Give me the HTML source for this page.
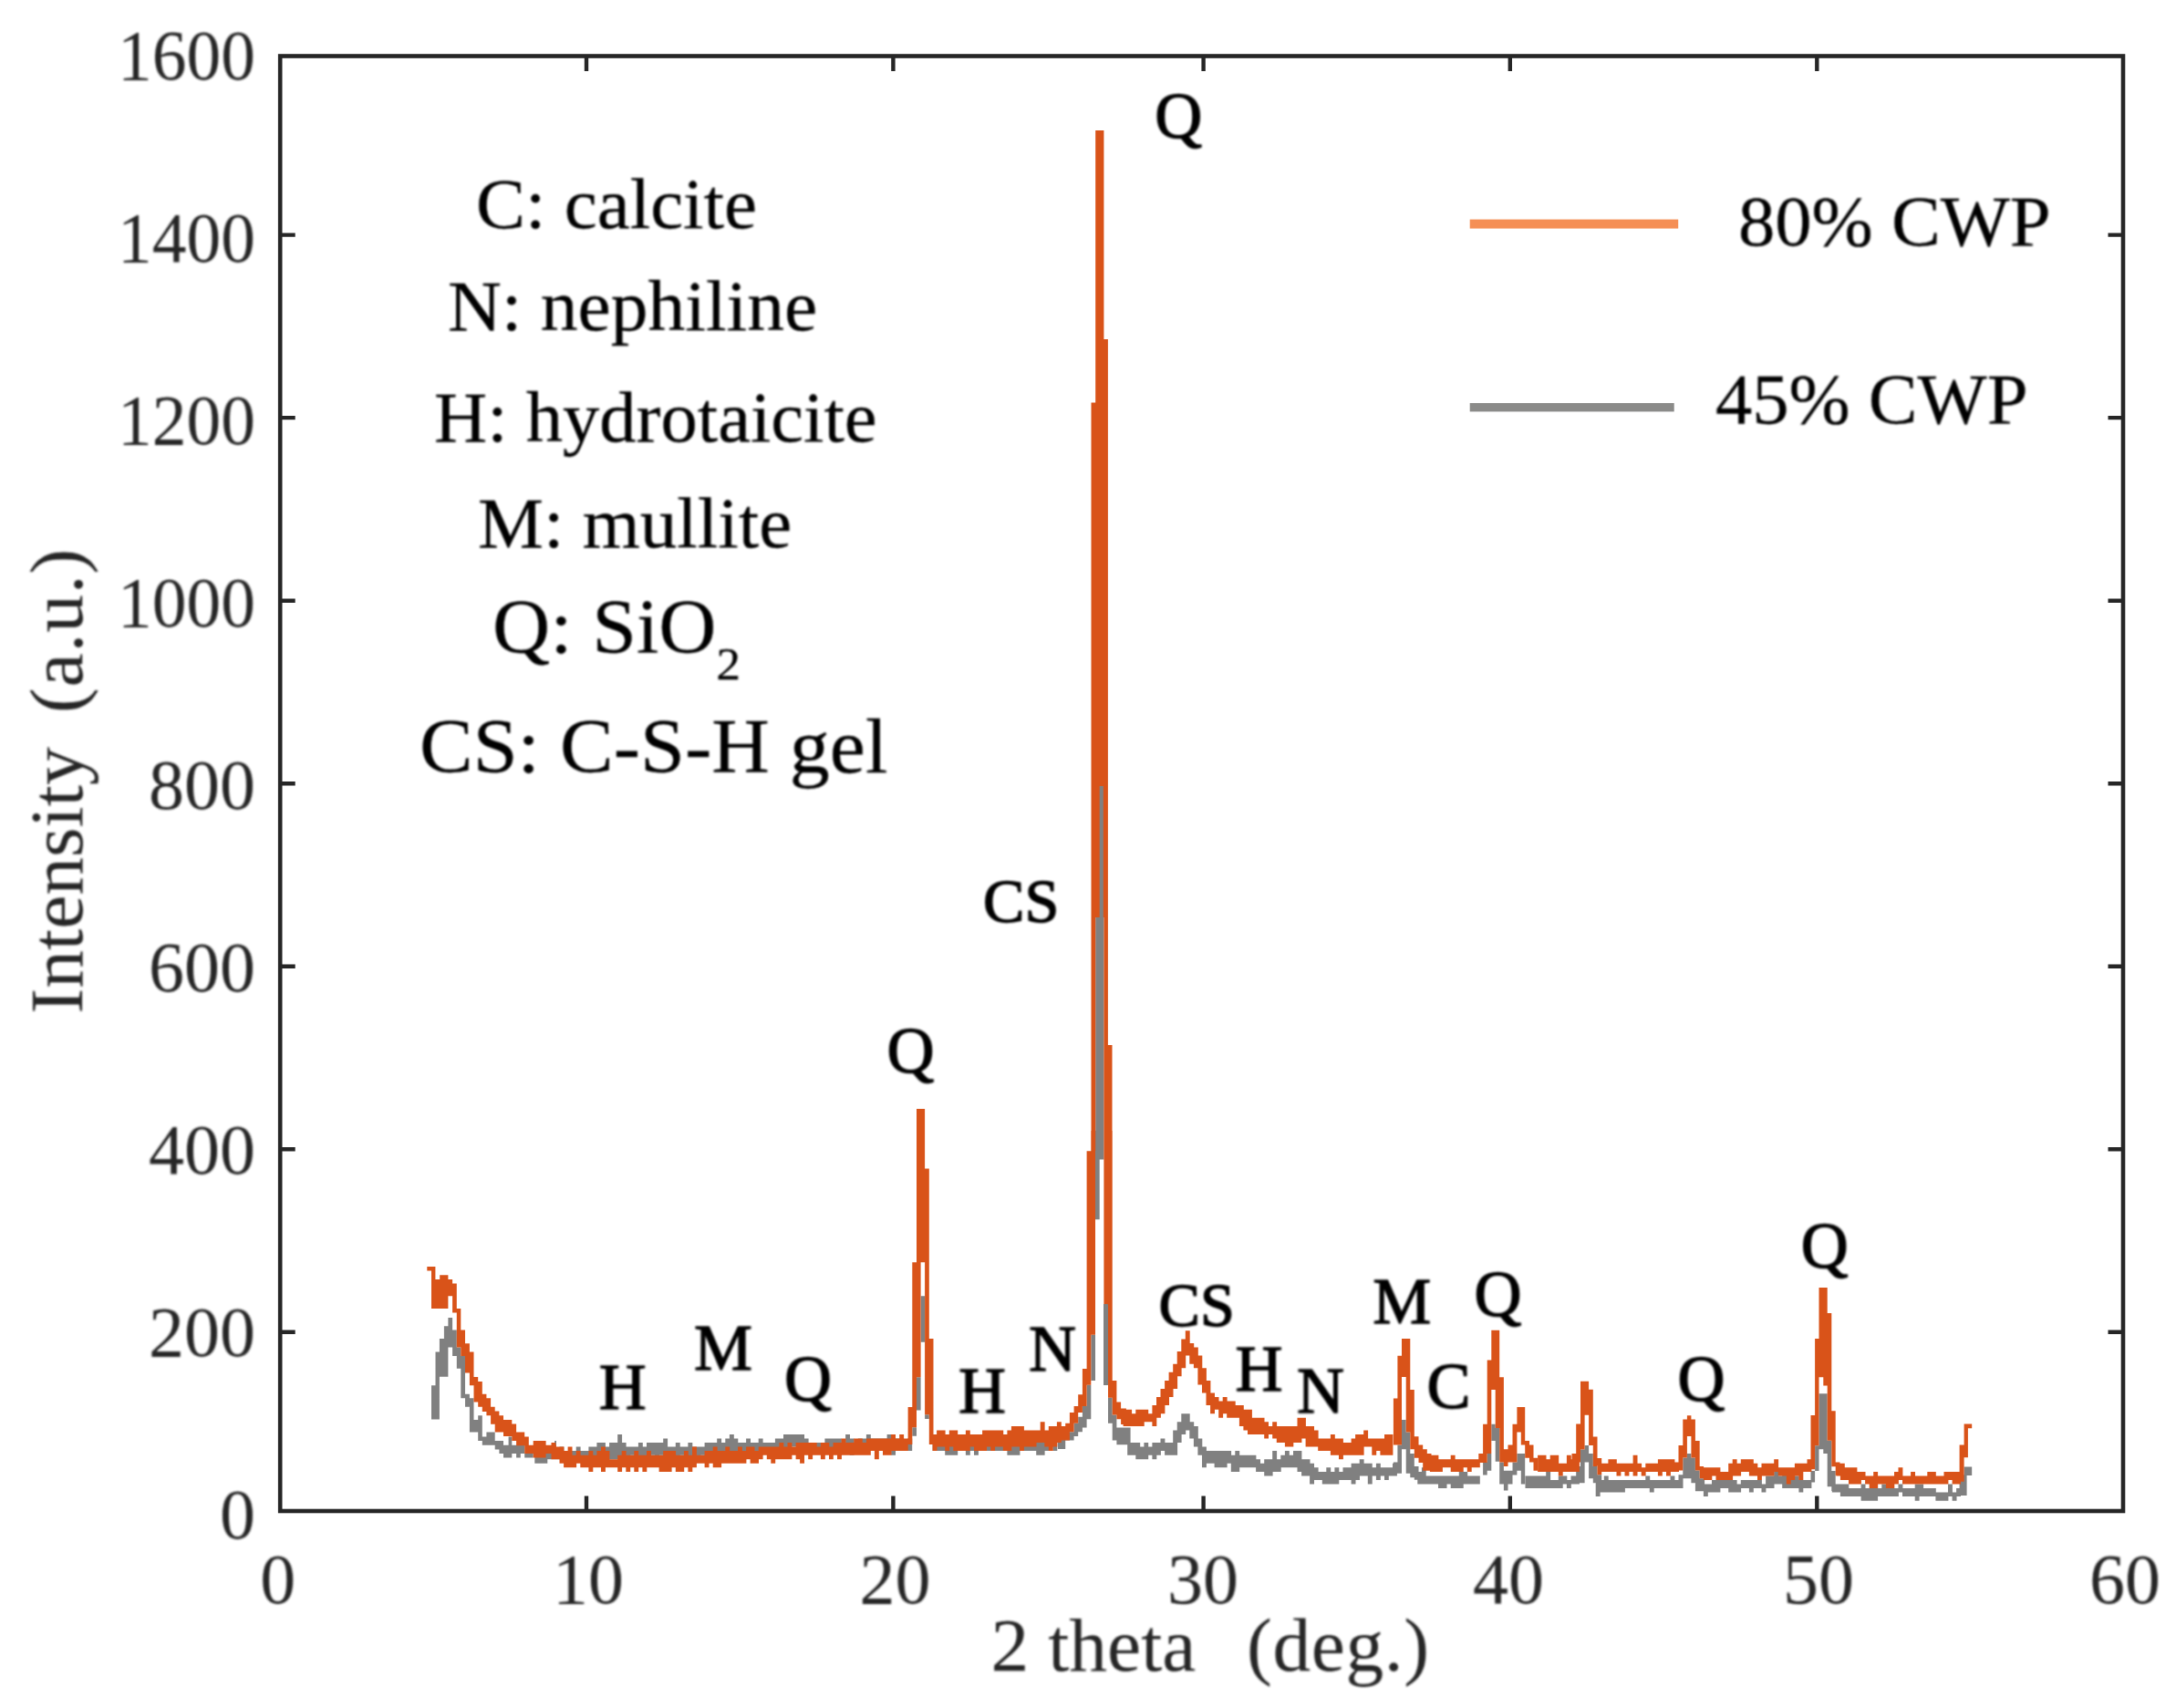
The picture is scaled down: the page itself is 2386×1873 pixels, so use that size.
<!DOCTYPE html>
<html lang="en">
<head>
<meta charset="utf-8">
<title>XRD patterns: 80% CWP vs 45% CWP</title>
<style>
html,body{margin:0;padding:0;background:#ffffff;}
body{width:2386px;height:1873px;overflow:hidden;font-family:"Liberation Serif",serif;}
svg{display:block;}
</style>
</head>
<body>
<svg width="2386" height="1873" viewBox="0 0 2386 1873">
<defs><filter id="soft" x="-5%" y="-5%" width="110%" height="110%"><feGaussianBlur stdDeviation="0.9"/></filter></defs>
<rect x="0" y="0" width="2386" height="1873" fill="#ffffff"/>
<path d="M586.3,1591.1H591.2V1604.8H586.3ZM590.8,1582.0H595.7V1604.8H590.8ZM595.4,1586.6H600.3V1604.8H595.4ZM599.9,1591.1H604.8V1600.2H599.9ZM604.5,1591.1H609.3V1600.2H604.5ZM609.0,1591.1H613.9V1600.2H609.0ZM613.5,1586.6H618.4V1600.2H613.5ZM618.1,1591.1H623.0V1600.2H618.1ZM622.6,1591.1H627.5V1604.8H622.6ZM627.2,1591.1H632.1V1604.8H627.2ZM631.7,1586.6H636.6V1600.2H631.7ZM636.3,1591.1H641.2V1600.2H636.3ZM640.8,1591.1H645.7V1604.8H640.8ZM645.4,1586.6H650.3V1600.2H645.4ZM649.9,1586.6H654.8V1604.8H649.9ZM654.4,1582.0H659.3V1604.8H654.4ZM659.0,1582.0H663.9V1604.8H659.0ZM663.5,1586.6H668.4V1600.2H663.5ZM668.1,1582.0H673.0V1600.2H668.1ZM672.6,1582.0H677.5V1600.2H672.6ZM677.2,1573.0H682.1V1600.2H677.2ZM681.7,1582.0H686.6V1595.7H681.7ZM686.3,1586.6H691.2V1600.2H686.3ZM690.8,1586.6H695.7V1595.7H690.8ZM695.3,1586.6H700.2V1604.8H695.3ZM699.9,1582.0H704.8V1600.2H699.9ZM704.4,1586.6H709.3V1600.2H704.4ZM709.0,1582.0H713.9V1600.2H709.0ZM713.5,1582.0H718.4V1595.7H713.5ZM718.1,1582.0H723.0V1600.2H718.1ZM722.6,1582.0H727.5V1595.7H722.6ZM727.2,1577.5H732.1V1600.2H727.2ZM731.7,1586.6H736.6V1600.2H731.7ZM736.3,1586.6H741.1V1595.7H736.3ZM740.8,1582.0H745.7V1600.2H740.8ZM745.3,1586.6H750.2V1595.7H745.3ZM749.9,1586.6H754.8V1600.2H749.9ZM754.4,1582.0H759.3V1600.2H754.4ZM759.0,1586.6H763.9V1595.7H759.0ZM763.5,1586.6H768.4V1600.2H763.5ZM768.1,1586.6H773.0V1595.7H768.1ZM772.6,1582.0H777.5V1600.2H772.6ZM777.2,1582.0H782.0V1595.7H777.2ZM781.7,1582.0H786.6V1595.7H781.7ZM786.2,1577.5H791.1V1595.7H786.2ZM790.8,1582.0H795.7V1595.7H790.8ZM795.3,1577.5H800.2V1591.1H795.3ZM799.9,1573.0H804.8V1591.1H799.9ZM804.4,1577.5H809.3V1591.1H804.4ZM809.0,1582.0H813.9V1591.1H809.0ZM813.5,1582.0H818.4V1600.2H813.5ZM818.1,1577.5H823.0V1591.1H818.1ZM822.6,1582.0H827.5V1595.7H822.6ZM827.1,1582.0H832.0V1591.1H827.1ZM831.7,1577.5H836.6V1595.7H831.7ZM836.2,1582.0H841.1V1591.1H836.2ZM840.8,1582.0H845.7V1591.1H840.8ZM845.3,1582.0H850.2V1591.1H845.3ZM849.9,1577.5H854.8V1591.1H849.9ZM854.4,1577.5H859.3V1591.1H854.4ZM859.0,1573.0H863.9V1595.7H859.0ZM863.5,1573.0H868.4V1586.6H863.5ZM868.0,1573.0H872.9V1586.6H868.0ZM872.6,1573.0H877.5V1586.6H872.6ZM877.1,1573.0H882.0V1591.1H877.1ZM881.7,1577.5H886.6V1591.1H881.7ZM886.2,1582.0H891.1V1591.1H886.2ZM890.8,1582.0H895.7V1591.1H890.8ZM895.3,1582.0H900.2V1591.1H895.3ZM899.9,1582.0H904.8V1591.1H899.9ZM904.4,1577.5H909.3V1591.1H904.4ZM909.0,1577.5H913.8V1591.1H909.0ZM913.5,1577.5H918.4V1591.1H913.5ZM918.0,1577.5H922.9V1591.1H918.0ZM922.6,1582.0H927.5V1591.1H922.6ZM927.1,1573.0H932.0V1591.1H927.1ZM931.7,1577.5H936.6V1595.7H931.7ZM936.2,1582.0H941.1V1591.1H936.2ZM940.8,1577.5H945.7V1591.1H940.8ZM945.3,1577.5H950.2V1591.1H945.3ZM949.9,1573.0H954.8V1591.1H949.9ZM954.4,1577.5H959.3V1591.1H954.4ZM958.9,1577.5H963.8V1586.6H958.9ZM963.5,1577.5H968.4V1591.1H963.5ZM968.0,1577.5H972.9V1586.6H968.0ZM972.6,1573.0H977.5V1591.1H972.6ZM977.1,1573.0H982.0V1595.7H977.1ZM981.7,1577.5H986.6V1591.1H981.7ZM986.2,1577.5H991.1V1586.6H986.2ZM990.8,1582.0H995.7V1591.1H990.8ZM995.3,1577.5H1000.2V1591.1H995.3ZM1022.6,1582.0H1027.5V1591.1H1022.6ZM1027.1,1577.5H1032.0V1591.1H1027.1ZM1031.7,1577.5H1036.6V1591.1H1031.7ZM1036.2,1582.0H1041.1V1595.7H1036.2ZM1040.8,1577.5H1045.6V1595.7H1040.8ZM1045.3,1582.0H1050.2V1595.7H1045.3ZM1049.8,1577.5H1054.7V1591.1H1049.8ZM1054.4,1577.5H1059.3V1591.1H1054.4ZM1058.9,1582.0H1063.8V1595.7H1058.9ZM1063.5,1577.5H1068.4V1591.1H1063.5ZM1068.0,1573.0H1072.9V1595.7H1068.0ZM1072.6,1582.0H1077.5V1591.1H1072.6ZM1077.1,1582.0H1082.0V1591.1H1077.1ZM1081.7,1577.5H1086.5V1591.1H1081.7ZM1086.2,1582.0H1091.1V1591.1H1086.2ZM1090.7,1577.5H1095.6V1591.1H1090.7ZM1095.3,1577.5H1100.2V1591.1H1095.3ZM1099.8,1577.5H1104.7V1591.1H1099.8ZM1104.4,1582.0H1109.3V1595.7H1104.4ZM1108.9,1577.5H1113.8V1595.7H1108.9ZM1113.5,1577.5H1118.4V1595.7H1113.5ZM1118.0,1577.5H1122.9V1591.1H1118.0ZM1122.6,1577.5H1127.5V1591.1H1122.6ZM1127.1,1577.5H1132.0V1591.1H1127.1ZM1131.6,1573.0H1136.5V1591.1H1131.6ZM1136.2,1577.5H1141.1V1595.7H1136.2ZM1140.7,1577.5H1145.6V1595.7H1140.7ZM1145.3,1577.5H1150.2V1591.1H1145.3ZM1149.8,1577.5H1154.7V1586.6H1149.8ZM1154.4,1577.5H1159.3V1591.1H1154.4ZM1236.2,1582.0H1241.1V1595.7H1236.2ZM1240.7,1582.0H1245.6V1595.7H1240.7ZM1245.3,1582.0H1250.2V1600.2H1245.3ZM1249.8,1586.6H1254.7V1600.2H1249.8ZM1254.4,1582.0H1259.2V1600.2H1254.4ZM1258.9,1586.6H1263.8V1595.7H1258.9ZM1263.4,1582.0H1268.3V1600.2H1263.4ZM1268.0,1582.0H1272.9V1595.7H1268.0ZM1272.5,1577.5H1277.4V1591.1H1272.5ZM1277.1,1582.0H1282.0V1595.7H1277.1ZM1281.6,1582.0H1286.5V1595.7H1281.6ZM1286.2,1568.4H1291.1V1595.7H1286.2ZM1290.7,1559.3H1295.6V1582.0H1290.7ZM1295.3,1550.2H1300.2V1573.0H1295.3ZM1299.8,1550.2H1304.7V1568.4H1299.8ZM1304.3,1559.3H1309.2V1577.5H1304.3ZM1308.9,1563.9H1313.8V1586.6H1308.9ZM1313.4,1577.5H1318.3V1595.7H1313.4ZM1318.0,1586.6H1322.9V1609.3H1318.0ZM1322.5,1591.1H1327.4V1604.8H1322.5ZM1327.1,1591.1H1332.0V1604.8H1327.1ZM1331.6,1591.1H1336.5V1609.3H1331.6ZM1336.2,1591.1H1341.1V1609.3H1336.2ZM1340.7,1591.1H1345.6V1609.3H1340.7ZM1345.2,1591.1H1350.1V1604.8H1345.2ZM1349.8,1595.7H1354.7V1613.9H1349.8ZM1354.3,1591.1H1359.2V1613.9H1354.3ZM1358.9,1595.7H1363.8V1609.3H1358.9ZM1363.4,1595.7H1368.3V1609.3H1363.4ZM1368.0,1595.7H1372.9V1609.3H1368.0ZM1372.5,1595.7H1377.4V1609.3H1372.5ZM1377.1,1600.2H1382.0V1613.9H1377.1ZM1381.6,1604.8H1386.5V1613.9H1381.6ZM1386.2,1600.2H1391.0V1618.4H1386.2ZM1390.7,1600.2H1395.6V1618.4H1390.7ZM1395.2,1591.1H1400.1V1613.9H1395.2ZM1399.8,1600.2H1404.7V1613.9H1399.8ZM1404.3,1595.7H1409.2V1609.3H1404.3ZM1408.9,1591.1H1413.8V1609.3H1408.9ZM1413.4,1595.7H1418.3V1609.3H1413.4ZM1418.0,1591.1H1422.9V1609.3H1418.0ZM1422.5,1591.1H1427.4V1613.9H1422.5ZM1427.1,1600.2H1431.9V1618.4H1427.1ZM1431.6,1600.2H1436.5V1618.4H1431.6ZM1436.1,1604.8H1441.0V1627.5H1436.1ZM1440.7,1609.3H1445.6V1623.0H1440.7ZM1445.2,1613.9H1450.1V1623.0H1445.2ZM1449.8,1613.9H1454.7V1627.5H1449.8ZM1454.3,1609.3H1459.2V1627.5H1454.3ZM1458.9,1613.9H1463.8V1627.5H1458.9ZM1463.4,1609.3H1468.3V1627.5H1463.4ZM1468.0,1613.9H1472.9V1623.0H1468.0ZM1472.5,1609.3H1477.4V1623.0H1472.5ZM1477.0,1609.3H1481.9V1623.0H1477.0ZM1481.6,1604.8H1486.5V1627.5H1481.6ZM1486.1,1604.8H1491.0V1623.0H1486.1ZM1490.7,1600.2H1495.6V1618.4H1490.7ZM1495.2,1604.8H1500.1V1618.4H1495.2ZM1499.8,1604.8H1504.7V1627.5H1499.8ZM1504.3,1609.3H1509.2V1618.4H1504.3ZM1508.9,1604.8H1513.8V1623.0H1508.9ZM1513.4,1609.3H1518.3V1618.4H1513.4ZM1518.0,1609.3H1522.8V1623.0H1518.0ZM1522.5,1609.3H1527.4V1618.4H1522.5ZM1527.0,1604.8H1531.9V1618.4H1527.0ZM1554.3,1613.9H1559.2V1627.5H1554.3ZM1558.9,1609.3H1563.7V1627.5H1558.9ZM1563.4,1618.4H1568.3V1627.5H1563.4ZM1567.9,1618.4H1572.8V1627.5H1567.9ZM1572.5,1618.4H1577.4V1627.5H1572.5ZM1577.0,1618.4H1581.9V1632.1H1577.0ZM1581.6,1618.4H1586.5V1632.1H1581.6ZM1586.1,1618.4H1591.0V1627.5H1586.1ZM1590.7,1618.4H1595.6V1632.1H1590.7ZM1595.2,1618.4H1600.1V1632.1H1595.2ZM1599.8,1613.9H1604.7V1632.1H1599.8ZM1604.3,1613.9H1609.2V1627.5H1604.3ZM1608.8,1618.4H1613.7V1627.5H1608.8ZM1613.4,1618.4H1618.3V1627.5H1613.4ZM1617.9,1618.4H1622.8V1627.5H1617.9ZM1672.5,1618.4H1677.4V1632.1H1672.5ZM1677.0,1618.4H1681.9V1632.1H1677.0ZM1681.6,1618.4H1686.5V1632.1H1681.6ZM1686.1,1618.4H1691.0V1632.1H1686.1ZM1690.7,1618.4H1695.5V1632.1H1690.7ZM1695.2,1613.9H1700.1V1632.1H1695.2ZM1699.7,1623.0H1704.6V1632.1H1699.7ZM1704.3,1623.0H1709.2V1632.1H1704.3ZM1708.8,1618.4H1713.7V1632.1H1708.8ZM1713.4,1618.4H1718.3V1627.5H1713.4ZM1717.9,1623.0H1722.8V1632.1H1717.9ZM1722.5,1618.4H1727.4V1627.5H1722.5ZM1727.0,1618.4H1731.9V1627.5H1727.0ZM1749.7,1618.4H1754.6V1641.1H1749.7ZM1754.3,1623.0H1759.2V1636.6H1754.3ZM1758.8,1618.4H1763.7V1636.6H1758.8ZM1763.4,1623.0H1768.3V1636.6H1763.4ZM1767.9,1623.0H1772.8V1636.6H1767.9ZM1772.5,1623.0H1777.4V1636.6H1772.5ZM1777.0,1623.0H1781.9V1636.6H1777.0ZM1781.5,1623.0H1786.4V1632.1H1781.5ZM1786.1,1623.0H1791.0V1632.1H1786.1ZM1790.6,1623.0H1795.5V1632.1H1790.6ZM1795.2,1623.0H1800.1V1632.1H1795.2ZM1799.7,1623.0H1804.6V1632.1H1799.7ZM1804.3,1618.4H1809.2V1632.1H1804.3ZM1808.8,1623.0H1813.7V1636.6H1808.8ZM1813.4,1623.0H1818.3V1632.1H1813.4ZM1817.9,1623.0H1822.8V1632.1H1817.9ZM1822.4,1623.0H1827.3V1632.1H1822.4ZM1827.0,1623.0H1831.9V1632.1H1827.0ZM1831.5,1618.4H1836.4V1632.1H1831.5ZM1836.1,1623.0H1841.0V1632.1H1836.1ZM1840.6,1618.4H1845.5V1632.1H1840.6ZM1867.9,1627.5H1872.8V1641.1H1867.9ZM1872.4,1627.5H1877.3V1636.6H1872.4ZM1877.0,1623.0H1881.9V1636.6H1877.0ZM1881.5,1623.0H1886.4V1636.6H1881.5ZM1886.1,1623.0H1891.0V1632.1H1886.1ZM1890.6,1623.0H1895.5V1632.1H1890.6ZM1895.2,1623.0H1900.1V1636.6H1895.2ZM1899.7,1623.0H1904.6V1636.6H1899.7ZM1904.3,1627.5H1909.1V1636.6H1904.3ZM1908.8,1623.0H1913.7V1632.1H1908.8ZM1913.3,1623.0H1918.2V1632.1H1913.3ZM1917.9,1623.0H1922.8V1636.6H1917.9ZM1922.4,1623.0H1927.3V1632.1H1922.4ZM1927.0,1623.0H1931.9V1632.1H1927.0ZM1931.5,1627.5H1936.4V1636.6H1931.5ZM1936.1,1618.4H1941.0V1632.1H1936.1ZM1940.6,1618.4H1945.5V1632.1H1940.6ZM1945.2,1609.3H1950.1V1627.5H1945.2ZM1949.7,1618.4H1954.6V1627.5H1949.7ZM1954.2,1613.9H1959.1V1632.1H1954.2ZM1958.8,1623.0H1963.7V1632.1H1958.8ZM1963.3,1623.0H1968.2V1632.1H1963.3ZM1967.9,1618.4H1972.8V1632.1H1967.9ZM1972.4,1623.0H1977.3V1636.6H1972.4ZM1977.0,1623.0H1981.9V1632.1H1977.0ZM1981.5,1623.0H1986.4V1632.1H1981.5ZM2008.8,1627.5H2013.7V1636.6H2008.8ZM2013.3,1627.5H2018.2V1636.6H2013.3ZM2017.9,1627.5H2022.8V1641.1H2017.9ZM2022.4,1627.5H2027.3V1641.1H2022.4ZM2027.0,1632.1H2031.9V1641.1H2027.0ZM2031.5,1632.1H2036.4V1641.1H2031.5ZM2036.1,1632.1H2040.9V1641.1H2036.1ZM2040.6,1627.5H2045.5V1645.7H2040.6ZM2045.1,1632.1H2050.0V1645.7H2045.1ZM2049.7,1632.1H2054.6V1645.7H2049.7ZM2054.2,1627.5H2059.1V1645.7H2054.2ZM2058.8,1632.1H2063.7V1641.1H2058.8ZM2063.3,1627.5H2068.2V1641.1H2063.3ZM2067.9,1632.1H2072.8V1641.1H2067.9ZM2072.4,1632.1H2077.3V1641.1H2072.4ZM2077.0,1632.1H2081.9V1641.1H2077.0ZM2081.5,1627.5H2086.4V1636.6H2081.5ZM2086.0,1632.1H2090.9V1641.1H2086.0ZM2090.6,1632.1H2095.5V1641.1H2090.6ZM2095.1,1632.1H2100.0V1641.1H2095.1ZM2099.7,1627.5H2104.6V1645.7H2099.7ZM2104.2,1627.5H2109.1V1641.1H2104.2ZM2108.8,1632.1H2113.7V1641.1H2108.8ZM2113.3,1632.1H2118.2V1641.1H2113.3ZM2117.9,1632.1H2122.8V1641.1H2117.9ZM2122.4,1636.6H2127.3V1645.7H2122.4ZM2126.9,1636.6H2131.8V1645.7H2126.9ZM2131.5,1636.6H2136.4V1645.7H2131.5ZM2136.0,1627.5H2140.9V1641.1H2136.0ZM2140.6,1636.6H2145.5V1645.7H2140.6ZM2145.1,1632.1H2150.0V1641.1H2145.1ZM473.0,1519.3H481.9V1556.6H473.0ZM477.5,1482.4H481.9V1519.3H477.5ZM481.9,1468.1H491.4V1509.8H481.9ZM486.9,1454.2H491.4V1468.1H486.9ZM491.4,1445.0H496.1V1477.6H491.4ZM496.1,1458.6H500.8V1487.1H496.1ZM500.8,1477.6H505.3V1500.7H500.8ZM505.3,1487.1H510.0V1533.2H505.3ZM510.0,1528.8H514.9V1542.7H510.0ZM514.9,1533.2H519.5V1570.6H514.9ZM519.5,1556.9H524.2V1570.6H519.5ZM524.2,1552.3H528.8V1580.1H524.2ZM528.8,1575.4H533.4V1584.8H528.8ZM533.4,1570.6H542.7V1584.8H533.4ZM542.7,1580.1H552.0V1589.6H542.7ZM547.4,1584.8H561.3V1594.0H547.4ZM552.0,1594.0H561.3V1598.4H552.0ZM557.6,1575.4H561.3V1584.8H557.6ZM561.3,1584.8H575.2V1594.0H561.3ZM566.1,1594.0H570.8V1598.4H566.1ZM575.2,1594.0H584.7V1598.4H575.2ZM594.2,1594.0H603.0V1598.4H594.2ZM608.1,1580.1H610.0V1594.0H608.1ZM2148.6,1617.2H2156.6V1640.0H2148.6ZM2153.6,1608.4H2162.2V1618.0H2153.6ZM1009.6,1421.3H1014.1V1471.7H1009.6ZM1005.0,1510.3H1009.6V1546.6H1005.0ZM1014.1,1551.3H1018.8V1556.0H1014.1ZM1000.3,1565.3H1005.0V1574.7H1000.3ZM1201.2,1006.0H1210.4V1250.0H1201.2ZM1201.0,1240.0H1210.4V1271.6H1201.0ZM1201.0,1271.6H1205.7V1337.2H1201.0ZM1196.3,1463.7H1201.0V1514.0H1196.3ZM1210.4,1430.9H1215.0V1518.7H1210.4ZM1191.6,1518.7H1196.3V1556.2H1191.6ZM1186.9,1542.1H1191.6V1565.5H1186.9ZM1182.2,1553.8H1186.9V1570.2H1182.2ZM1177.6,1560.8H1182.2V1574.9H1177.6ZM1168.2,1570.2H1177.6V1579.6H1168.2ZM1160.0,1577.2H1168.2V1588.9H1160.0ZM1215.0,1532.7H1219.7V1560.8H1215.0ZM1219.7,1551.5H1224.4V1579.6H1219.7ZM1224.4,1565.5H1239.6V1584.3H1224.4ZM1537.0,1557.1H1541.7V1589.3H1537.0ZM1541.7,1570.6H1546.3V1615.7H1541.7ZM1532.4,1584.6H1537.0V1615.7H1532.4ZM1527.9,1603.4H1532.4V1615.7H1527.9ZM1546.3,1594.0H1550.8V1620.3H1546.3ZM1550.8,1608.1H1555.5V1622.7H1550.8ZM1635.3,1561.8H1639.7V1579.9H1635.3ZM1639.7,1565.9H1644.2V1602.8H1639.7ZM1630.7,1594.0H1635.3V1612.7H1630.7ZM1626.1,1603.4H1630.7V1617.4H1626.1ZM1644.2,1603.4H1648.9V1627.4H1644.2ZM1648.9,1612.7H1653.5V1634.4H1648.9ZM1663.4,1594.0H1672.2V1612.7H1663.4ZM1658.5,1603.4H1663.4V1617.4H1658.5ZM1653.5,1612.7H1658.5V1627.4H1653.5ZM1667.8,1612.7H1672.2V1627.4H1667.8ZM1737.6,1585.0H1742.1V1603.4H1737.6ZM1733.0,1589.5H1737.6V1626.3H1733.0ZM1742.1,1594.0H1746.8V1621.3H1742.1ZM1728.2,1607.9H1733.0V1626.3H1728.2ZM1746.8,1607.9H1751.5V1626.3H1746.8ZM1751.5,1617.3H1756.2V1635.3H1751.5ZM1849.9,1594.0H1854.4V1598.4H1849.9ZM1845.3,1598.4H1858.9V1621.3H1845.3ZM1854.4,1612.4H1863.7V1626.3H1854.4ZM1840.5,1617.3H1845.3V1626.3H1840.5ZM1858.9,1621.3H1869.1V1635.3H1858.9ZM1994.5,1528.3H2003.7V1579.7H1994.5ZM1994.5,1579.7H1999.3V1589.2H1994.5ZM1999.3,1579.7H2008.3V1594.0H1999.3ZM1990.1,1585.3H1994.5V1612.9H1990.1ZM2003.7,1594.0H2008.3V1630.3H2003.7ZM1985.5,1612.9H1990.1V1625.6H1985.5ZM2008.3,1612.9H2012.7V1635.1H2008.3Z" fill="#808080" stroke="none"/>
<path d="M604.5,1582.0H609.3V1600.2H604.5ZM609.0,1586.6H613.9V1600.2H609.0ZM613.5,1586.6H618.4V1604.8H613.5ZM618.1,1591.1H623.0V1609.3H618.1ZM622.6,1586.6H627.5V1609.3H622.6ZM627.2,1595.7H632.1V1609.3H627.2ZM631.7,1591.1H636.6V1604.8H631.7ZM636.3,1595.7H641.2V1609.3H636.3ZM640.8,1595.7H645.7V1609.3H640.8ZM645.4,1591.1H650.3V1613.9H645.4ZM649.9,1595.7H654.8V1609.3H649.9ZM654.4,1591.1H659.3V1609.3H654.4ZM659.0,1586.6H663.9V1613.9H659.0ZM663.5,1591.1H668.4V1609.3H663.5ZM668.1,1600.2H673.0V1609.3H668.1ZM672.6,1600.2H677.5V1609.3H672.6ZM677.2,1595.7H682.1V1613.9H677.2ZM681.7,1591.1H686.6V1609.3H681.7ZM686.3,1595.7H691.2V1613.9H686.3ZM690.8,1595.7H695.7V1609.3H690.8ZM695.3,1591.1H700.2V1613.9H695.3ZM699.9,1595.7H704.8V1609.3H699.9ZM704.4,1595.7H709.3V1613.9H704.4ZM709.0,1591.1H713.9V1609.3H709.0ZM713.5,1595.7H718.4V1609.3H713.5ZM718.1,1595.7H723.0V1609.3H718.1ZM722.6,1595.7H727.5V1613.9H722.6ZM727.2,1591.1H732.1V1613.9H727.2ZM731.7,1591.1H736.6V1613.9H731.7ZM736.3,1591.1H741.1V1609.3H736.3ZM740.8,1595.7H745.7V1613.9H740.8ZM745.3,1595.7H750.2V1613.9H745.3ZM749.9,1591.1H754.8V1609.3H749.9ZM754.4,1595.7H759.3V1613.9H754.4ZM759.0,1586.6H763.9V1609.3H759.0ZM763.5,1595.7H768.4V1604.8H763.5ZM768.1,1595.7H773.0V1604.8H768.1ZM772.6,1591.1H777.5V1609.3H772.6ZM777.2,1591.1H782.0V1604.8H777.2ZM781.7,1586.6H786.6V1609.3H781.7ZM786.2,1591.1H791.1V1609.3H786.2ZM790.8,1591.1H795.7V1604.8H790.8ZM795.3,1586.6H800.2V1604.8H795.3ZM799.9,1591.1H804.8V1604.8H799.9ZM804.4,1591.1H809.3V1604.8H804.4ZM809.0,1586.6H813.9V1604.8H809.0ZM813.5,1591.1H818.4V1604.8H813.5ZM818.1,1586.6H823.0V1600.2H818.1ZM822.6,1586.6H827.5V1604.8H822.6ZM827.1,1591.1H832.0V1604.8H827.1ZM831.7,1586.6H836.6V1600.2H831.7ZM836.2,1586.6H841.1V1595.7H836.2ZM840.8,1586.6H845.7V1600.2H840.8ZM845.3,1586.6H850.2V1604.8H845.3ZM849.9,1586.6H854.8V1600.2H849.9ZM854.4,1582.0H859.3V1600.2H854.4ZM859.0,1586.6H863.9V1600.2H859.0ZM863.5,1582.0H868.4V1600.2H863.5ZM868.0,1586.6H872.9V1595.7H868.0ZM872.6,1582.0H877.5V1600.2H872.6ZM877.1,1582.0H882.0V1604.8H877.1ZM881.7,1582.0H886.6V1595.7H881.7ZM886.2,1582.0H891.1V1600.2H886.2ZM890.8,1582.0H895.7V1595.7H890.8ZM895.3,1586.6H900.2V1595.7H895.3ZM899.9,1582.0H904.8V1600.2H899.9ZM904.4,1582.0H909.3V1595.7H904.4ZM909.0,1586.6H913.8V1600.2H909.0ZM913.5,1582.0H918.4V1595.7H913.5ZM918.0,1582.0H922.9V1600.2H918.0ZM922.6,1577.5H927.5V1595.7H922.6ZM927.1,1582.0H932.0V1595.7H927.1ZM931.7,1582.0H936.6V1595.7H931.7ZM936.2,1577.5H941.1V1595.7H936.2ZM940.8,1577.5H945.7V1595.7H940.8ZM945.3,1582.0H950.2V1595.7H945.3ZM949.9,1577.5H954.8V1595.7H949.9ZM954.4,1577.5H959.3V1591.1H954.4ZM958.9,1577.5H963.8V1600.2H958.9ZM963.5,1577.5H968.4V1591.1H963.5ZM968.0,1577.5H972.9V1595.7H968.0ZM972.6,1577.5H977.5V1595.7H972.6ZM977.1,1573.0H982.0V1591.1H977.1ZM981.7,1577.5H986.6V1591.1H981.7ZM986.2,1573.0H991.1V1591.1H986.2ZM990.8,1577.5H995.7V1591.1H990.8ZM1022.6,1573.0H1027.5V1591.1H1022.6ZM1027.1,1568.4H1032.0V1586.6H1027.1ZM1031.7,1568.4H1036.6V1586.6H1031.7ZM1036.2,1573.0H1041.1V1591.1H1036.2ZM1040.8,1568.4H1045.6V1586.6H1040.8ZM1045.3,1568.4H1050.2V1591.1H1045.3ZM1049.8,1573.0H1054.7V1591.1H1049.8ZM1054.4,1573.0H1059.3V1591.1H1054.4ZM1058.9,1568.4H1063.8V1591.1H1058.9ZM1063.5,1573.0H1068.4V1586.6H1063.5ZM1068.0,1573.0H1072.9V1591.1H1068.0ZM1072.6,1573.0H1077.5V1591.1H1072.6ZM1077.1,1568.4H1082.0V1591.1H1077.1ZM1081.7,1568.4H1086.5V1586.6H1081.7ZM1086.2,1568.4H1091.1V1591.1H1086.2ZM1090.7,1568.4H1095.6V1586.6H1090.7ZM1095.3,1568.4H1100.2V1586.6H1095.3ZM1099.8,1573.0H1104.7V1591.1H1099.8ZM1104.4,1568.4H1109.3V1591.1H1104.4ZM1108.9,1563.9H1113.8V1586.6H1108.9ZM1113.5,1563.9H1118.4V1586.6H1113.5ZM1118.0,1563.9H1122.9V1591.1H1118.0ZM1122.6,1568.4H1127.5V1586.6H1122.6ZM1127.1,1568.4H1132.0V1586.6H1127.1ZM1131.6,1568.4H1136.5V1586.6H1131.6ZM1136.2,1568.4H1141.1V1582.0H1136.2ZM1140.7,1559.3H1145.6V1582.0H1140.7ZM1145.3,1568.4H1150.2V1586.6H1145.3ZM1149.8,1563.9H1154.7V1591.1H1149.8ZM1154.4,1563.9H1159.3V1586.6H1154.4ZM1158.9,1559.3H1163.8V1582.0H1158.9ZM1163.5,1563.9H1168.4V1577.5H1163.5ZM1231.6,1545.7H1236.5V1563.9H1231.6ZM1236.2,1545.7H1241.1V1563.9H1236.2ZM1240.7,1550.2H1245.6V1563.9H1240.7ZM1245.3,1545.7H1250.2V1563.9H1245.3ZM1249.8,1545.7H1254.7V1563.9H1249.8ZM1254.4,1545.7H1259.2V1559.3H1254.4ZM1258.9,1550.2H1263.8V1559.3H1258.9ZM1263.4,1541.1H1268.3V1563.9H1263.4ZM1268.0,1532.0H1272.9V1554.8H1268.0ZM1272.5,1522.9H1277.4V1550.2H1272.5ZM1277.1,1513.9H1282.0V1541.1H1277.1ZM1281.6,1504.8H1286.5V1532.0H1281.6ZM1286.2,1495.7H1291.1V1522.9H1286.2ZM1290.7,1482.0H1295.6V1509.3H1290.7ZM1295.3,1468.4H1300.2V1500.2H1295.3ZM1299.8,1459.3H1304.7V1486.6H1299.8ZM1304.3,1472.9H1309.2V1495.7H1304.3ZM1308.9,1477.5H1313.8V1500.2H1308.9ZM1313.4,1486.6H1318.3V1518.4H1313.4ZM1318.0,1500.2H1322.9V1527.5H1318.0ZM1322.5,1513.9H1327.4V1541.1H1322.5ZM1327.1,1527.5H1332.0V1550.2H1327.1ZM1331.6,1532.0H1336.5V1545.7H1331.6ZM1336.2,1536.6H1341.1V1554.8H1336.2ZM1340.7,1532.0H1345.6V1550.2H1340.7ZM1345.2,1536.6H1350.1V1554.8H1345.2ZM1349.8,1536.6H1354.7V1554.8H1349.8ZM1354.3,1541.1H1359.2V1554.8H1354.3ZM1358.9,1541.1H1363.8V1563.9H1358.9ZM1363.4,1545.7H1368.3V1568.4H1363.4ZM1368.0,1545.7H1372.9V1573.0H1368.0ZM1372.5,1554.8H1377.4V1573.0H1372.5ZM1377.1,1554.8H1382.0V1573.0H1377.1ZM1381.6,1554.8H1386.5V1573.0H1381.6ZM1386.2,1559.3H1391.0V1577.5H1386.2ZM1390.7,1563.9H1395.6V1573.0H1390.7ZM1395.2,1559.3H1400.1V1577.5H1395.2ZM1399.8,1563.9H1404.7V1582.0H1399.8ZM1404.3,1563.9H1409.2V1582.0H1404.3ZM1408.9,1563.9H1413.8V1586.6H1408.9ZM1413.4,1563.9H1418.3V1586.6H1413.4ZM1418.0,1563.9H1422.9V1582.0H1418.0ZM1422.5,1554.8H1427.4V1582.0H1422.5ZM1427.1,1554.8H1431.9V1577.5H1427.1ZM1431.6,1563.9H1436.5V1586.6H1431.6ZM1436.1,1563.9H1441.0V1586.6H1436.1ZM1440.7,1568.4H1445.6V1586.6H1440.7ZM1445.2,1577.5H1450.1V1591.1H1445.2ZM1449.8,1577.5H1454.7V1591.1H1449.8ZM1454.3,1577.5H1459.2V1591.1H1454.3ZM1458.9,1573.0H1463.8V1595.7H1458.9ZM1463.4,1577.5H1468.3V1595.7H1463.4ZM1468.0,1577.5H1472.9V1600.2H1468.0ZM1472.5,1582.0H1477.4V1595.7H1472.5ZM1477.0,1582.0H1481.9V1595.7H1477.0ZM1481.6,1577.5H1486.5V1595.7H1481.6ZM1486.1,1573.0H1491.0V1595.7H1486.1ZM1490.7,1573.0H1495.6V1595.7H1490.7ZM1495.2,1568.4H1500.1V1586.6H1495.2ZM1499.8,1577.5H1504.7V1586.6H1499.8ZM1504.3,1577.5H1509.2V1595.7H1504.3ZM1508.9,1577.5H1513.8V1591.1H1508.9ZM1513.4,1577.5H1518.3V1595.7H1513.4ZM1518.0,1573.0H1522.8V1595.7H1518.0ZM1522.5,1573.0H1527.4V1595.7H1522.5ZM1567.9,1595.7H1572.8V1613.9H1567.9ZM1572.5,1595.7H1577.4V1613.9H1572.5ZM1577.0,1600.2H1581.9V1613.9H1577.0ZM1581.6,1600.2H1586.5V1609.3H1581.6ZM1586.1,1600.2H1591.0V1609.3H1586.1ZM1590.7,1595.7H1595.6V1613.9H1590.7ZM1595.2,1600.2H1600.1V1613.9H1595.2ZM1599.8,1600.2H1604.7V1613.9H1599.8ZM1604.3,1600.2H1609.2V1609.3H1604.3ZM1608.8,1600.2H1613.7V1613.9H1608.8ZM1613.4,1600.2H1618.3V1609.3H1613.4ZM1617.9,1600.2H1622.8V1609.3H1617.9ZM1686.1,1595.7H1691.0V1613.9H1686.1ZM1690.7,1595.7H1695.5V1613.9H1690.7ZM1695.2,1600.2H1700.1V1613.9H1695.2ZM1699.7,1595.7H1704.6V1613.9H1699.7ZM1704.3,1595.7H1709.2V1613.9H1704.3ZM1708.8,1604.8H1713.7V1618.4H1708.8ZM1713.4,1604.8H1718.3V1613.9H1713.4ZM1717.9,1595.7H1722.8V1613.9H1717.9ZM1722.5,1600.2H1727.4V1613.9H1722.5ZM1727.0,1600.2H1731.9V1613.9H1727.0ZM1754.3,1604.8H1759.2V1613.9H1754.3ZM1758.8,1604.8H1763.7V1613.9H1758.8ZM1763.4,1600.2H1768.3V1613.9H1763.4ZM1767.9,1600.2H1772.8V1613.9H1767.9ZM1772.5,1604.8H1777.4V1618.4H1772.5ZM1777.0,1604.8H1781.9V1613.9H1777.0ZM1781.5,1604.8H1786.4V1618.4H1781.5ZM1786.1,1604.8H1791.0V1613.9H1786.1ZM1790.6,1595.7H1795.5V1618.4H1790.6ZM1795.2,1604.8H1800.1V1613.9H1795.2ZM1799.7,1609.3H1804.6V1618.4H1799.7ZM1804.3,1604.8H1809.2V1613.9H1804.3ZM1808.8,1604.8H1813.7V1613.9H1808.8ZM1813.4,1604.8H1818.3V1613.9H1813.4ZM1817.9,1600.2H1822.8V1618.4H1817.9ZM1822.4,1600.2H1827.3V1613.9H1822.4ZM1827.0,1600.2H1831.9V1618.4H1827.0ZM1831.5,1600.2H1836.4V1613.9H1831.5ZM1836.1,1604.8H1841.0V1613.9H1836.1ZM1867.9,1609.3H1872.8V1623.0H1867.9ZM1872.4,1609.3H1877.3V1623.0H1872.4ZM1877.0,1609.3H1881.9V1618.4H1877.0ZM1881.5,1609.3H1886.4V1623.0H1881.5ZM1886.1,1613.9H1891.0V1623.0H1886.1ZM1890.6,1613.9H1895.5V1623.0H1890.6ZM1895.2,1604.8H1900.1V1623.0H1895.2ZM1899.7,1600.2H1904.6V1618.4H1899.7ZM1904.3,1604.8H1909.1V1618.4H1904.3ZM1908.8,1600.2H1913.7V1613.9H1908.8ZM1913.3,1600.2H1918.2V1613.9H1913.3ZM1917.9,1600.2H1922.8V1618.4H1917.9ZM1922.4,1604.8H1927.3V1618.4H1922.4ZM1927.0,1609.3H1931.9V1623.0H1927.0ZM1931.5,1604.8H1936.4V1618.4H1931.5ZM1936.1,1604.8H1941.0V1618.4H1936.1ZM1940.6,1604.8H1945.5V1618.4H1940.6ZM1945.2,1600.2H1950.1V1613.9H1945.2ZM1949.7,1609.3H1954.6V1618.4H1949.7ZM1954.2,1609.3H1959.1V1618.4H1954.2ZM1958.8,1609.3H1963.7V1627.5H1958.8ZM1963.3,1609.3H1968.2V1623.0H1963.3ZM1967.9,1604.8H1972.8V1618.4H1967.9ZM1972.4,1604.8H1977.3V1623.0H1972.4ZM1977.0,1604.8H1981.9V1613.9H1977.0ZM1981.5,1600.2H1986.4V1613.9H1981.5ZM2013.3,1604.8H2018.2V1618.4H2013.3ZM2017.9,1604.8H2022.8V1623.0H2017.9ZM2022.4,1609.3H2027.3V1623.0H2022.4ZM2027.0,1609.3H2031.9V1627.5H2027.0ZM2031.5,1609.3H2036.4V1627.5H2031.5ZM2036.1,1613.9H2040.9V1627.5H2036.1ZM2040.6,1613.9H2045.5V1623.0H2040.6ZM2045.1,1618.4H2050.0V1627.5H2045.1ZM2049.7,1618.4H2054.6V1632.1H2049.7ZM2054.2,1613.9H2059.1V1632.1H2054.2ZM2058.8,1618.4H2063.7V1627.5H2058.8ZM2063.3,1618.4H2068.2V1627.5H2063.3ZM2067.9,1618.4H2072.8V1632.1H2067.9ZM2072.4,1618.4H2077.3V1632.1H2072.4ZM2077.0,1613.9H2081.9V1627.5H2077.0ZM2081.5,1609.3H2086.4V1623.0H2081.5ZM2086.0,1618.4H2090.9V1627.5H2086.0ZM2090.6,1618.4H2095.5V1627.5H2090.6ZM2095.1,1613.9H2100.0V1627.5H2095.1ZM2099.7,1618.4H2104.6V1627.5H2099.7ZM2104.2,1618.4H2109.1V1627.5H2104.2ZM2108.8,1618.4H2113.7V1627.5H2108.8ZM2113.3,1613.9H2118.2V1627.5H2113.3ZM2117.9,1613.9H2122.8V1627.5H2117.9ZM2122.4,1618.4H2127.3V1627.5H2122.4ZM2126.9,1618.4H2131.8V1627.5H2126.9ZM2131.5,1613.9H2136.4V1627.5H2131.5ZM2136.0,1613.9H2140.9V1623.0H2136.0ZM2140.6,1613.9H2145.5V1627.5H2140.6ZM2145.1,1613.9H2150.0V1627.5H2145.1ZM468.3,1389.0H477.4V1393.4H468.3ZM473.0,1393.4H477.4V1435.1H473.0ZM477.4,1402.9H482.2V1435.1H477.4ZM482.2,1398.3H491.4V1435.1H482.2ZM491.4,1402.9H496.1V1421.2H491.4ZM496.1,1407.6H500.8V1439.5H496.1ZM500.8,1435.1H505.3V1477.6H500.8ZM505.3,1458.6H510.0V1487.1H505.3ZM510.0,1473.2H514.9V1505.4H510.0ZM514.9,1482.4H519.5V1519.3H514.9ZM519.5,1510.1H524.2V1537.6H519.5ZM524.2,1514.9H528.8V1542.7H524.2ZM528.8,1528.8H533.4V1547.9H528.8ZM533.4,1533.2H538.1V1552.3H533.4ZM538.1,1542.7H542.7V1561.8H538.1ZM542.7,1547.6H547.4V1570.6H542.7ZM547.4,1552.3H552.0V1570.6H547.4ZM552.0,1556.9H561.3V1574.9H552.0ZM561.3,1561.5H566.1V1580.1H561.3ZM566.1,1570.6H575.2V1585.2H566.1ZM575.2,1575.4H579.8V1594.0H575.2ZM579.8,1584.8H584.7V1594.0H579.8ZM584.7,1580.1H598.6V1598.4H584.7ZM598.6,1584.8H610.0V1594.0H598.6ZM2148.6,1584.4H2153.6V1624.8H2148.6ZM2153.6,1561.6H2157.9V1598.3H2153.6ZM2153.6,1561.6H2162.2V1566.2H2153.6ZM1005.0,1215.9H1014.1V1384.3H1005.0ZM1014.1,1281.5H1018.8V1551.3H1014.1ZM1018.8,1468.1H1023.5V1584.1H1018.8ZM1000.3,1384.3H1009.6V1510.3H1000.3ZM1000.3,1510.3H1005.0V1565.3H1000.3ZM995.6,1543.1H1000.3V1584.1H995.6ZM1201.2,143.0H1210.4V441.5H1201.2ZM1210.4,372.0H1214.9V1250.0H1210.4ZM1196.5,441.5H1201.2V1262.0H1196.5ZM1201.2,441.5H1210.4V1006.0H1201.2ZM1214.9,1146.0H1219.5V1250.0H1214.9ZM1191.6,1262.2H1201.0V1463.7H1191.6ZM1196.3,1240.0H1201.0V1262.2H1196.3ZM1191.6,1463.7H1196.3V1501.1H1191.6ZM1186.9,1501.1H1196.3V1518.7H1186.9ZM1186.9,1518.7H1191.6V1529.2H1186.9ZM1182.2,1529.2H1191.6V1542.1H1182.2ZM1177.6,1542.1H1186.9V1549.1H1177.6ZM1172.9,1549.1H1182.2V1560.8H1172.9ZM1168.2,1560.8H1177.6V1570.2H1168.2ZM1160.0,1567.9H1172.9V1579.6H1160.0ZM1210.4,1240.0H1219.7V1430.9H1210.4ZM1215.0,1430.9H1219.7V1514.0H1215.0ZM1215.0,1514.0H1224.4V1532.7H1215.0ZM1219.7,1532.7H1224.4V1551.5H1219.7ZM1224.4,1537.4H1229.1V1556.2H1224.4ZM1229.1,1544.4H1234.9V1562.0H1229.1ZM1537.0,1468.1H1546.3V1486.8H1537.0ZM1532.4,1486.8H1546.3V1510.0H1532.4ZM1532.4,1510.0H1537.0V1533.5H1532.4ZM1527.9,1533.5H1537.0V1584.6H1527.9ZM1541.7,1510.0H1546.3V1524.1H1541.7ZM1541.7,1524.1H1550.8V1570.6H1541.7ZM1546.3,1570.6H1550.8V1589.3H1546.3ZM1550.8,1575.3H1555.5V1598.7H1550.8ZM1555.5,1584.6H1560.2V1604.0H1555.5ZM1560.2,1589.3H1564.8V1612.7H1560.2ZM1564.8,1594.0H1569.5V1612.7H1564.8ZM1635.3,1458.7H1644.2V1491.5H1635.3ZM1630.7,1491.5H1644.2V1510.3H1630.7ZM1630.7,1510.3H1648.9V1524.1H1630.7ZM1630.7,1524.1H1635.3V1561.8H1630.7ZM1626.1,1561.8H1635.3V1594.0H1626.1ZM1621.3,1594.0H1630.7V1604.0H1621.3ZM1639.7,1524.1H1648.9V1565.9H1639.7ZM1644.2,1565.9H1648.9V1603.4H1644.2ZM1648.9,1589.3H1653.5V1608.1H1648.9ZM1663.4,1543.1H1672.2V1561.8H1663.4ZM1658.5,1561.8H1672.2V1570.6H1658.5ZM1658.5,1570.6H1663.4V1603.4H1658.5ZM1653.5,1584.6H1658.5V1603.4H1653.5ZM1667.8,1570.6H1672.2V1579.9H1667.8ZM1667.8,1579.9H1677.0V1584.6H1667.8ZM1672.2,1584.6H1681.5V1598.7H1672.2ZM1677.0,1598.7H1681.5V1603.4H1677.0ZM1681.5,1598.7H1686.0V1612.7H1681.5ZM1733.0,1514.8H1742.1V1523.8H1733.0ZM1733.0,1523.8H1746.8V1551.7H1733.0ZM1733.0,1551.7H1737.6V1561.6H1733.0ZM1728.2,1561.6H1737.6V1589.5H1728.2ZM1728.2,1589.5H1733.0V1603.4H1728.2ZM1723.5,1594.0H1728.2V1608.4H1723.5ZM1742.1,1551.7H1746.8V1585.0H1742.1ZM1746.8,1575.5H1751.5V1607.9H1746.8ZM1751.5,1598.9H1756.2V1617.3H1751.5ZM1849.9,1552.2H1854.4V1556.6H1849.9ZM1845.3,1556.6H1858.9V1575.0H1845.3ZM1845.3,1575.0H1849.9V1585.0H1845.3ZM1840.5,1585.0H1849.9V1598.4H1840.5ZM1840.5,1598.4H1845.3V1612.4H1840.5ZM1835.8,1603.4H1840.5V1612.4H1835.8ZM1854.4,1575.0H1858.9V1580.0H1854.4ZM1854.4,1580.0H1863.7V1598.4H1854.4ZM1858.9,1598.4H1863.7V1612.4H1858.9ZM1863.7,1607.9H1868.1V1621.3H1863.7ZM1994.5,1412.1H2003.7V1440.1H1994.5ZM1994.5,1440.1H2008.3V1467.9H1994.5ZM1990.1,1467.9H2008.3V1510.2H1990.1ZM1990.1,1510.2H1994.5V1552.1H1990.1ZM1985.5,1552.1H1994.5V1585.3H1985.5ZM1985.5,1585.3H1990.1V1611.3H1985.5ZM1999.3,1510.2H2008.3V1519.6H1999.3ZM2003.7,1519.6H2008.3V1547.3H2003.7ZM2003.7,1547.3H2012.7V1579.7H2003.7ZM2008.3,1579.7H2012.7V1608.2H2008.3ZM2012.7,1603.4H2017.5V1617.7H2012.7Z" fill="#D95319" stroke="none"/>
<path d="M1205.7,862.0H1209.8V1006.0H1205.7Z" fill="#808080" stroke="none"/>
<rect x="1210" y="1430" width="4.8" height="89" fill="#808080"/>
<rect x="307.2" y="61.5" width="2020.8" height="1595.5" fill="none" stroke="#262626" stroke-width="4.6"/>
<path d="M643.0,1657.0V1640.5M643.0,61.5V78.0M979.4,1657.0V1640.5M979.4,61.5V78.0M1319.6,1657.0V1640.5M1319.6,61.5V78.0M1655.8,1657.0V1640.5M1655.8,61.5V78.0M1992.3,1657.0V1640.5M1992.3,61.5V78.0M307.2,1460.8H323.7M2328.0,1460.8H2311.5M307.2,1260.3H323.7M2328.0,1260.3H2311.5M307.2,1059.7H323.7M2328.0,1059.7H2311.5M307.2,859.2H323.7M2328.0,859.2H2311.5M307.2,658.7H323.7M2328.0,658.7H2311.5M307.2,458.1H323.7M2328.0,458.1H2311.5M307.2,257.6H323.7M2328.0,257.6H2311.5" fill="none" stroke="#262626" stroke-width="4.4"/>
<g font-family="'Liberation Serif', serif" font-size="78" fill="#262626" filter="url(#soft)">
<text x="304.8" y="1758" text-anchor="middle">0</text>
<text x="645" y="1758" text-anchor="middle">10</text>
<text x="981.6" y="1758" text-anchor="middle">20</text>
<text x="1319" y="1758" text-anchor="middle">30</text>
<text x="1654" y="1758" text-anchor="middle">40</text>
<text x="1994" y="1758" text-anchor="middle">50</text>
<text x="2330" y="1758" text-anchor="middle">60</text>
<text x="280" y="1686.8" text-anchor="end">0</text>
<text x="280" y="1486.9" text-anchor="end">200</text>
<text x="280" y="1286.9" text-anchor="end">400</text>
<text x="280" y="1087.0" text-anchor="end">600</text>
<text x="280" y="887.0" text-anchor="end">800</text>
<text x="280" y="687.1" text-anchor="end" textLength="151" lengthAdjust="spacingAndGlyphs">1000</text>
<text x="280" y="487.2" text-anchor="end" textLength="151" lengthAdjust="spacingAndGlyphs">1200</text>
<text x="280" y="287.2" text-anchor="end" textLength="151" lengthAdjust="spacingAndGlyphs">1400</text>
<text x="280" y="87.3" text-anchor="end" textLength="151" lengthAdjust="spacingAndGlyphs">1600</text>
</g>
<g font-family="'Liberation Serif', serif" font-size="83.5" fill="#262626" filter="url(#soft)">
<text x="1086.5" y="1831.5">2 theta</text>
<text x="1367" y="1831.5" letter-spacing="0.6">(deg.)</text>
<text transform="translate(89.5,1111.5) rotate(-90)" x="0" y="0">Intensity</text>
<text transform="translate(89.5,782) rotate(-90)" x="0" y="0" letter-spacing="0.8">(a.u.)</text>
</g>
<g font-family="'Liberation Serif', serif" fill="#000000" stroke="#000000" stroke-width="0.3" filter="url(#soft)" transform="scale(1,0.96)">
<text x="522" y="260.2" font-size="81">C: calcite</text>
<text x="491" y="377.4" font-size="81.5">N: nephiline</text>
<text x="476" y="503.8" font-size="80.6">H: hydrotaicite</text>
<text x="524" y="624.8" font-size="81">M: mullite</text>
<text x="540" y="745.7" font-size="87.5">Q: SiO<tspan font-size="53" dy="30">2</tspan></text>
<text x="460" y="882.1" font-size="88">CS: C-S-H gel</text>
</g>
<rect x="1611.7" y="240.6" width="228.5" height="10" fill="#F58F55"/>
<rect x="1611.7" y="442" width="224" height="9.4" fill="#8B8B89"/>
<g font-family="'Liberation Serif', serif" font-size="80.6" fill="#000000" stroke="#000000" stroke-width="0.3" filter="url(#soft)" transform="scale(1,0.96)">
<text x="1906" y="280.1">80% CWP</text>
<text x="1881" y="483.6">45% CWP</text>
</g>
<g font-family="'Liberation Serif', serif" fill="#000000" stroke="#000000" stroke-width="1.4" stroke-linejoin="round" text-anchor="middle" filter="url(#soft)">
<text x="1292.3" y="150.8" font-size="72">Q</text>
<text x="1119.7" y="1010.8" font-size="68">CS</text>
<text x="998.6" y="1176.3" font-size="72">Q</text>
<text x="682.8" y="1544.8" font-size="72">H</text>
<text x="792.9" y="1502.2" font-size="72">M</text>
<text x="886.0" y="1535.8" font-size="72">Q</text>
<text x="1076.9" y="1549.3" font-size="72">H</text>
<text x="1153.9" y="1502.8" font-size="72">N</text>
<text x="1312.2" y="1453.8" font-size="68">CS</text>
<text x="1380.5" y="1524.8" font-size="72">H</text>
<text x="1448.1" y="1548.8" font-size="72">N</text>
<text x="1537.2" y="1451.2" font-size="72">M</text>
<text x="1588.5" y="1543.8" font-size="72">C</text>
<text x="1642.5" y="1442.8" font-size="72">Q</text>
<text x="1865.5" y="1535.8" font-size="72">Q</text>
<text x="2000.7" y="1390.3" font-size="72">Q</text>
</g>
</svg>
</body>
</html>
